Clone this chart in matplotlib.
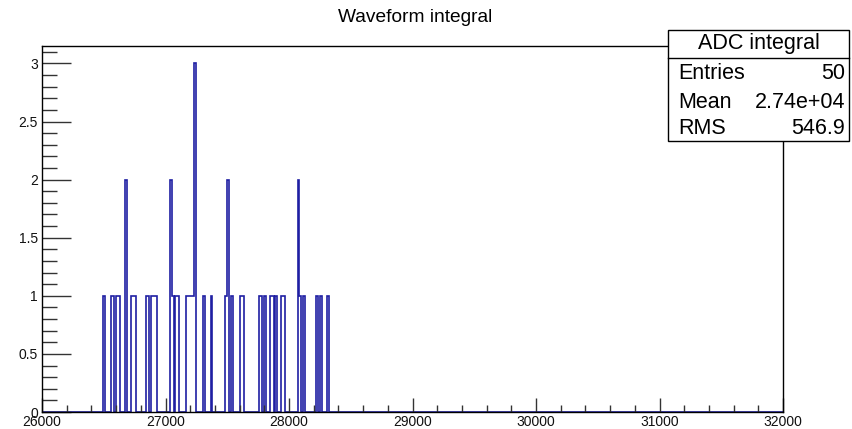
import numpy as np
import matplotlib
matplotlib.use("Agg")
import matplotlib.pyplot as plt
from matplotlib.patches import Rectangle
from matplotlib.ticker import MultipleLocator

plt.rcParams['font.family'] = ['Liberation Sans', 'DejaVu Sans']

# Histogram definition
x_min, x_max, n_bins = 26000, 32000, 400
# ADC integral entries (bin centres)
entries = [26502.5, 26562.5, 26577.5, 26607.5, 26622.5,
           26682.5, 26682.5, 26727.5, 26742.5, 26757.5,
           26847.5, 26862.5, 26892.5, 26907.5, 26922.5,
           27042.5, 27042.5, 27057.5, 27087.5, 27102.5,
           27177.5, 27192.5, 27207.5, 27222.5,
           27237.5, 27237.5, 27237.5,
           27312.5, 27372.5,
           27492.5, 27507.5, 27507.5, 27537.5,
           27612.5, 27627.5,
           27762.5, 27777.5, 27807.5,
           27852.5, 27867.5, 27897.5,
           27942.5, 27957.5,
           28077.5, 28077.5, 28092.5, 28122.5,
           28227.5, 28257.5, 28317.5]

stats_title = "ADC integral"
stats_labels = ["Entries", "Mean", "RMS"]
stats_values = ["50", "2.74e+04", "546.9"]
title = "Waveform integral"

W, H = 852, 429
fig = plt.figure(figsize=(W / 100, H / 100), dpi=100)
L, R, T, B = 42, 783, 46, 412
ax = fig.add_axes([L / W, 1 - B / H, (R - L) / W, (B - T) / H])

ax.hist(entries, bins=n_bins, range=(x_min, x_max), histtype='step',
        color='#1f1fa3', linewidth=1.2, zorder=1)

ax.set_xlim(x_min, x_max)
ax.set_ylim(0, 3.15)

ax.xaxis.set_major_locator(MultipleLocator(1000))
ax.xaxis.set_minor_locator(MultipleLocator(200))
ax.yaxis.set_major_locator(MultipleLocator(0.5))
ax.yaxis.set_minor_locator(MultipleLocator(0.1))

ax.tick_params(axis='x', which='major', direction='in', length=10, width=1,
               labelsize=10, pad=2, colors='#333333')
ax.tick_params(axis='x', which='minor', direction='in', length=5, width=1, colors='#333333')
ax.tick_params(axis='y', which='major', direction='in', length=21, width=1,
               labelsize=10, pad=3, colors='#333333')
ax.tick_params(axis='y', which='minor', direction='in', length=11, width=1, colors='#333333')
ax.tick_params(labelcolor='#111111')

ax.yaxis.set_major_formatter(plt.FuncFormatter(lambda v, p: "%g" % v))
ax.xaxis.set_major_formatter(plt.FuncFormatter(lambda v, p: "%d" % v))

for s in ax.spines.values():
    s.set_linewidth(1.0)
    s.set_color('black')
    s.set_zorder(3)

fig.text(415 / W, 1 - 18 / H, title, ha='center', va='center', fontsize=13.8)

# Stats box
bx0, bx1, by0, by1, bdiv = 668, 849, 30, 141, 58
fig.patches.append(Rectangle((bx0 / W, 1 - by1 / H), (bx1 - bx0) / W, (by1 - by0) / H,
                             transform=fig.transFigure, facecolor='white',
                             edgecolor='black', linewidth=1.0, zorder=5))
fig.add_artist(plt.Line2D([bx0 / W, bx1 / W], [1 - bdiv / H, 1 - bdiv / H],
                          transform=fig.transFigure, color='black', linewidth=1.0, zorder=6))
fig.text((bx0 + bx1) / 2 / W, 1 - 44 / H, stats_title, ha='center', va='center',
         fontsize=15.5, zorder=7)
rows_y = [74, 102, 129]
for lab, val, yy in zip(stats_labels, stats_values, rows_y):
    fig.text(678 / W, 1 - yy / H, lab, ha='left', va='center', fontsize=15.5, zorder=7)
    fig.text(845 / W, 1 - yy / H, val, ha='right', va='center', fontsize=15.5, zorder=7)

fig.savefig("out.png", dpi=100)
